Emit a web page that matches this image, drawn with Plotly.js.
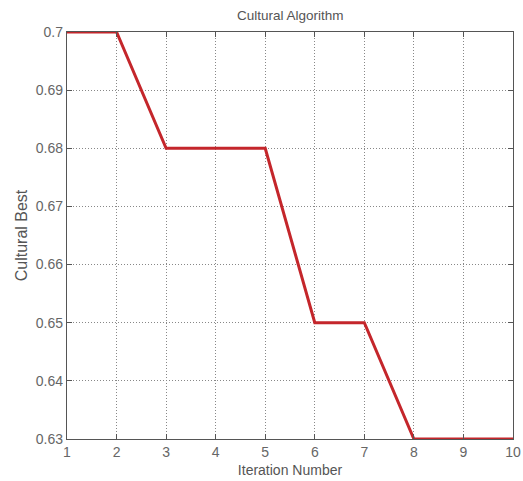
<!DOCTYPE html>
<html>
<head>
<meta charset="utf-8">
<script src="https://cdn.plot.ly/plotly-3.0.1.min.js"></script>
<style>html,body{margin:0;padding:0;background:#fff;}#chart{width:523px;height:481px;}</style>
</head>
<body>
<div id="chart"></div>
<script>
var iterations = [1, 2, 3, 4, 5, 6, 7, 8, 9, 10];
var culturalBest = [0.70, 0.70, 0.68, 0.68, 0.68, 0.65, 0.65, 0.63, 0.63, 0.63];
var yTicks = [0.63, 0.64, 0.65, 0.66, 0.67, 0.68, 0.69, 0.70];
var yTickLabels = ['0.63', '0.64', '0.65', '0.66', '0.67', '0.68', '0.69', '0.7'];

var trace = {
  x: iterations,
  y: culturalBest,
  type: 'scatter',
  mode: 'lines',
  line: {color: '#c4262b', width: 3},
  hoverinfo: 'none'
};

var tickFont = {family: 'Liberation Sans, Arial, sans-serif', size: 14, color: '#666'};

var axisCommon = {
  showline: true,
  linecolor: '#555',
  linewidth: 1.2,
  mirror: 'ticks',
  ticks: 'inside',
  ticklen: 5,
  tickcolor: '#555',
  showgrid: true,
  gridcolor: '#888',
  griddash: '1px,2px',
  gridwidth: 1,
  zeroline: false,
  tickfont: tickFont
};

var layout = {
  width: 523,
  height: 481,
  margin: {l: 67, r: 10, t: 32, b: 42},
  paper_bgcolor: '#fff',
  plot_bgcolor: '#fff',
  showlegend: false,
  title: {text: 'Cultural Algorithm', x: 0.555, xanchor: 'center', y: 0.968, yanchor: 'middle',
          font: {family: 'Liberation Sans, Arial, sans-serif', size: 13.5, color: '#555'}},
  xaxis: Object.assign({}, axisCommon, {
    range: [1, 10],
    tickvals: iterations,
    ticktext: iterations.map(String),
    title: {text: 'Iteration Number', standoff: 6,
            font: {family: 'Liberation Sans, Arial, sans-serif', size: 14, color: '#555'}}
  }),
  yaxis: Object.assign({}, axisCommon, {
    range: [0.63, 0.70],
    tickvals: yTicks,
    ticktext: yTickLabels,
    title: {text: 'Cultural Best', standoff: 4,
            font: {family: 'Liberation Sans, Arial, sans-serif', size: 16, color: '#555'}}
  })
};

Plotly.newPlot('chart', [trace], layout, {displayModeBar: false, staticPlot: true});
</script>
</body>
</html>
